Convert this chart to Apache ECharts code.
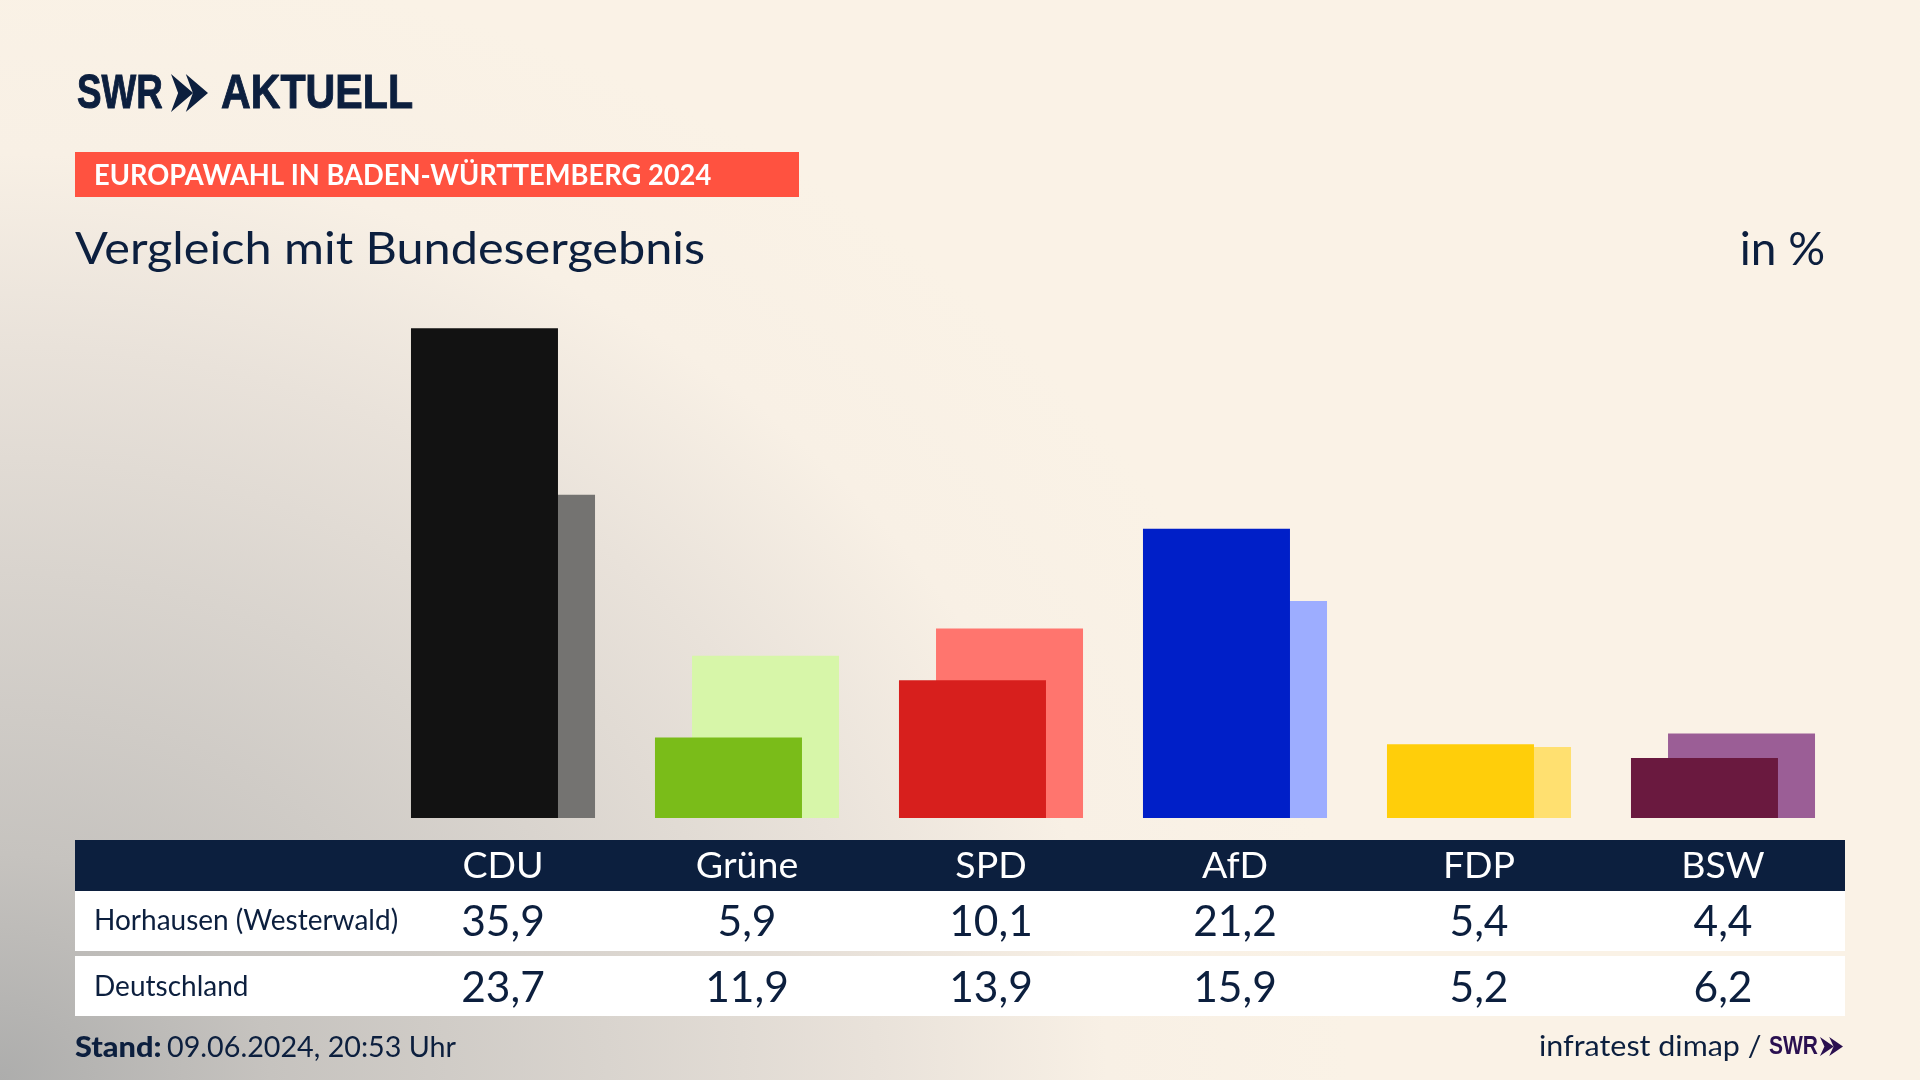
<!DOCTYPE html>
<html>
<head>
<meta charset="utf-8">
<title>Vergleich mit Bundesergebnis</title>
<script src="https://cdn.jsdelivr.net/npm/echarts@6/dist/echarts.min.js"></script>
<style>
html,body{margin:0;padding:0;background:#faf2e6}
#main{width:1920px;height:1080px}
</style>
</head>
<body>
<div id="main"></div>
<script>
var parties = ['CDU','Grüne','SPD','AfD','FDP','BSW'];
var horhausen = [35.9,5.9,10.1,21.2,5.4,4.4];
var deutschland = [23.7,11.9,13.9,15.9,5.2,6.2];
var rowNames = ['Horhausen (Westerwald)','Deutschland'];
var mainColors = ['#121212','#7abc19','#d71f1d','#001fc8','#ffce0a','#6a193f'];
var lightColors = ['#747371','#d7f6a9','#ff756e','#9dadff','#ffe070','#9b5e96'];

var navy = '#0c1f3e';
var purple = '#2a1050';
var font = 'Lato';
var logoFont = 'Liberation Sans';

function comma(v){
	return v.toFixed(1).replace('.',',');
}
function barData(values,colors){
	return values.map(function(v,i){
		return {value:v,itemStyle:{color:colors[i]}};
	});
}
// text helper, y is the middle of the line
function txt(str,x,y,size,opt){
	opt = opt || {};
	var color = opt.color || navy;
	return {
		type:'text',
		x:x,y:y,
		scaleX:opt.scaleX || 1,
		z:5,
		style:{
			text:str,
			fontFamily:opt.family || font,
			fontSize:size,
			fontWeight:opt.weight || 'normal',
			fill:color,
			stroke:opt.heavy ? color : null,
			lineWidth:opt.heavy || 0,
			align:opt.align || 'left',
			verticalAlign:'middle'
		}
	};
}
function box(x,y,w,h,color){
	return {type:'rect',z:-1,shape:{x:x,y:y,width:w,height:h},style:{fill:color}};
}
// swr double chevron
function chevrons(x,y,w,h,color){
	var a = w*0.6;
	var one = function(x0){
		return {type:'polygon',z:5,shape:{points:[[x0,y],[x0+a,y+h*0.5],[x0,y+h],[x0+a*0.32,y+h*0.5]]},style:{fill:color}};
	};
	return [one(x),one(x+w-a)];
}

// background: grey glow out of the lower left corner, slightly wider than tall
var glowScale = 1350/1130;
var glow = {
	type:'rect',
	z:-2,
	scaleX:glowScale,
	shape:{x:0,y:0,width:1920/glowScale,height:1080},
	style:{
		fill:new echarts.graphic.RadialGradient(0,1,1130/1080,[
			{offset:0,color:'#adadac'},
			{offset:0.2,color:'#c6c3bf'},
			{offset:0.45,color:'#d9d4ce'},
			{offset:0.65,color:'#e9e2da'},
			{offset:0.82,color:'#f8f0e5'},
			{offset:1,color:'#faf2e6'}
		])
	}
};

var graphicEls = [
	glow,
	box(75,152,724,45,'#ff5240'),
	box(75,840,1770,51,navy),
	box(75,891,1770,60,'#ffffff'),
	box(75,956,1770,60,'#ffffff'),
	txt('SWR',77,94,49,{weight:'bold',family:logoFont,scaleX:0.75,heavy:1}),
	txt('AKTUELL',221,94,49,{weight:'bold',family:logoFont,scaleX:0.84,heavy:1}),
	txt('EUROPAWAHL IN BADEN-WÜRTTEMBERG 2024',94,176,28,{weight:'bold',color:'#ffffff',scaleX:0.975}),
	txt('Vergleich mit Bundesergebnis',75,250,44,{scaleX:1.105}),
	txt('in %',1825,250,46,{align:'right'}),
	txt(rowNames[0],94,921,28),
	txt(rowNames[1],94,987,28),
	txt('Stand:',75,1048,29,{weight:900,scaleX:1.06}),
	txt('09.06.2024, 20:53 Uhr',167,1048,29,{scaleX:0.99}),
	txt('infratest dimap /',1539,1047,29,{scaleX:1.05}),
	txt('SWR',1769,1047,25,{weight:'bold',family:logoFont,color:purple,scaleX:0.84})
].concat(chevrons(171,74,37,38,navy)).concat(chevrons(1820,1037,23,19,purple));

function tableAxis(labels,offset,size,color){
	return {
		type:'category',
		data:labels,
		position:'bottom',
		offset:offset,
		axisLine:{show:false},
		axisTick:{show:false},
		axisLabel:{interval:0,margin:0,fontFamily:font,fontSize:size,color:color,verticalAlign:'middle',hideOverlap:false}
	};
}

var myChart = echarts.init(document.getElementById('main'));
myChart.setOption({
	animation:false,
	grid:{left:381,width:1464,top:272.4,height:545.6,containLabel:false},
	xAxis:[
		tableAxis(parties,48,37.5,'#ffffff'),
		tableAxis(horhausen.map(comma),104,42.5,navy),
		tableAxis(deutschland.map(comma),170,42.5,navy)
	],
	yAxis:{type:'value',min:0,max:40,show:false},
	series:[
		{
			type:'bar',
			name:rowNames[0],
			z:3,
			barWidth:147,
			barGap:'-74.8%',
			data:barData(horhausen,mainColors)
		},
		{
			type:'bar',
			name:rowNames[1],
			z:2,
			barWidth:147,
			data:barData(deutschland,lightColors)
		}
	],
	graphic:{elements:graphicEls}
});
</script>
</body>
</html>
